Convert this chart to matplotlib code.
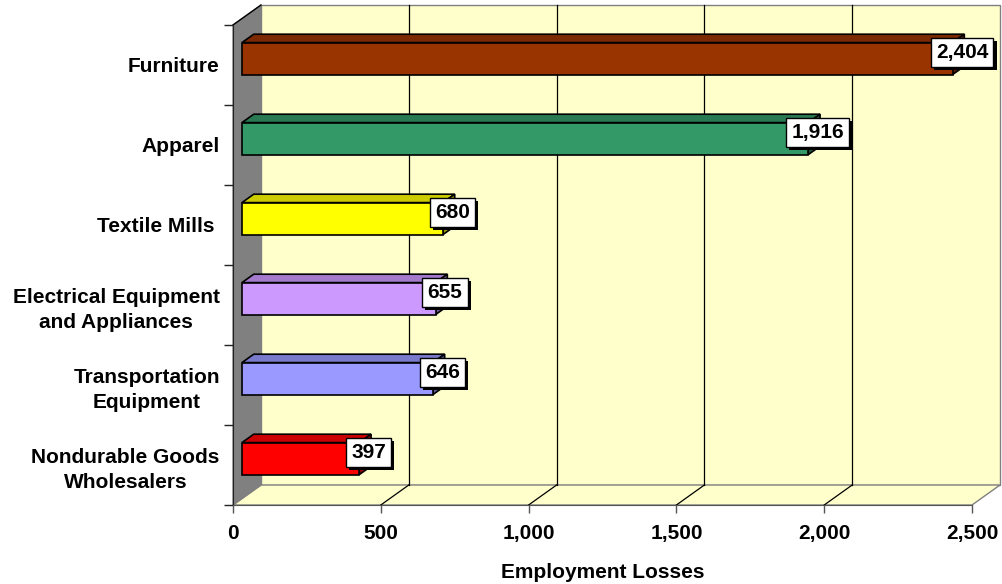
import matplotlib.pyplot as plt
from matplotlib.patches import Polygon
import matplotlib.patheffects as pe

# industries, bottom to top
categories = ['Nondurable Goods\nWholesalers', 'Transportation\nEquipment',
              'Electrical Equipment\nand Appliances', 'Textile Mills ',
              'Apparel', 'Furniture']
losses = [397, 646, 655, 680, 1916, 2404]
bar_colors = ['#FF0000', '#9999FF', '#CC99FF', '#FFFF00', '#339966', '#993300']
top_colors = ['#CC0000', '#7A7ACC', '#A37ACC', '#CCCC00', '#297A52', '#7A2900']
side_colors = ['#990000', '#5C5C99', '#7A5C99', '#999900', '#1F5C3D', '#5C1F00']
xticks = [0, 500, 1000, 1500, 2000, 2500]

plt.rcParams['font.family'] = ['Liberation Sans', 'DejaVu Sans']
plt.rcParams['font.weight'] = 'bold'
plt.rcParams['font.size'] = 15

fig = plt.figure(figsize=(10.02, 5.84), dpi=100)
ax = fig.add_axes([233 / 1002, 1 - 505 / 584, 739 / 1002, 480 / 584])
xmax = xticks[-1]
ncat = len(categories)
ax.set_xlim(0, xmax)
ax.set_ylim(0, ncat)

# oblique depth of the box, in data units
dx = 28 * xmax / 739
dy = 20 / 80
f0, f1 = 0.32, 0.74   # bar front / back depth

def poly(pts, fc, ec, lw=1.0, z=1):
    p = Polygon(pts, closed=True, facecolor=fc, edgecolor=ec, linewidth=lw,
                zorder=z, clip_on=False, joinstyle='miter')
    ax.add_patch(p)
    return p

# walls and floor
poly([(dx, dy), (xmax + dx, dy), (xmax + dx, ncat + dy), (dx, ncat + dy)],
     '#FFFFCC', '#808080', 1.0, 0)
poly([(0, 0), (xmax, 0), (xmax + dx, dy), (dx, dy)], '#FFFFCC', '#808080', 1.0, 0)
poly([(0, 0), (dx, dy), (dx, ncat + dy), (0, ncat)], '#808080', '#808080', 1.0, 0.5)
ax.plot([0, dx], [ncat, ncat + dy], color='black', lw=1.0, clip_on=False, zorder=0.6)

# gridlines on back wall and floor
for v in xticks[1:-1]:
    ax.plot([v + dx, v + dx], [dy, ncat + dy], color='black', lw=0.9,
            clip_on=False, zorder=0.7)
    ax.plot([v, v + dx], [0, dy], color='black', lw=0.9, clip_on=False, zorder=0.7)

# 3d bars
for i, (v, c, tc, sc) in enumerate(zip(losses, bar_colors, top_colors, side_colors)):
    lo, hi = i + 0.3, i + 0.7
    poly([(f0 * dx, hi + f0 * dy), (v + f0 * dx, hi + f0 * dy),
          (v + f1 * dx, hi + f1 * dy), (f1 * dx, hi + f1 * dy)], tc, 'black', 1.2, 2)
    poly([(v + f0 * dx, lo + f0 * dy), (v + f1 * dx, lo + f1 * dy),
          (v + f1 * dx, hi + f1 * dy), (v + f0 * dx, hi + f0 * dy)], sc, 'black', 1.2, 2)
    poly([(f0 * dx, lo + f0 * dy), (v + f0 * dx, lo + f0 * dy),
          (v + f0 * dx, hi + f0 * dy), (f0 * dx, hi + f0 * dy)], c, 'black', 1.2, 3)
    t = ax.annotate('{:,}'.format(v), xy=(v + f0 * dx, i + 0.5 + f0 * dy),
                    xytext=(9.5, 6), textcoords='offset pixels',
                    ha='center', va='center', fontsize=15, zorder=5,
                    annotation_clip=False,
                    bbox=dict(boxstyle='square,pad=0.25', fc='white', ec='black', lw=1.0))
    t.get_bbox_patch().set_path_effects([
        pe.SimplePatchShadow(offset=(2.2, -2.2), shadow_rgbFace='black', alpha=1.0),
        pe.Normal()])

# axes
ax.spines['top'].set_visible(False)
ax.spines['right'].set_visible(False)
ax.spines['left'].set_color('#222222')
ax.spines['left'].set_zorder(1)
ax.spines['bottom'].set_color('#555555')
ax.patch.set_visible(False)

ax.set_xticks(xticks)
ax.set_xticklabels(['{:,}'.format(v) for v in xticks])
ax.set_yticks(range(ncat + 1), minor=False)
ax.set_yticklabels([])
ax.set_yticks([i + 0.5 for i in range(ncat)], minor=True)
ax.set_yticklabels(categories, minor=True, multialignment='center')
for lab in ax.get_yticklabels(minor=True):
    lab.set_linespacing(1.38)
ax.tick_params(axis='y', which='major', length=6.5, width=1, color='#222222')
ax.tick_params(axis='y', which='minor', length=0, pad=9.5)
ax.tick_params(axis='x', length=6, width=1, color='#555555', pad=8)
ax.set_xlabel('Employment Losses', fontsize=15, fontweight='bold', labelpad=14)

fig.savefig('out.png', dpi=100)
